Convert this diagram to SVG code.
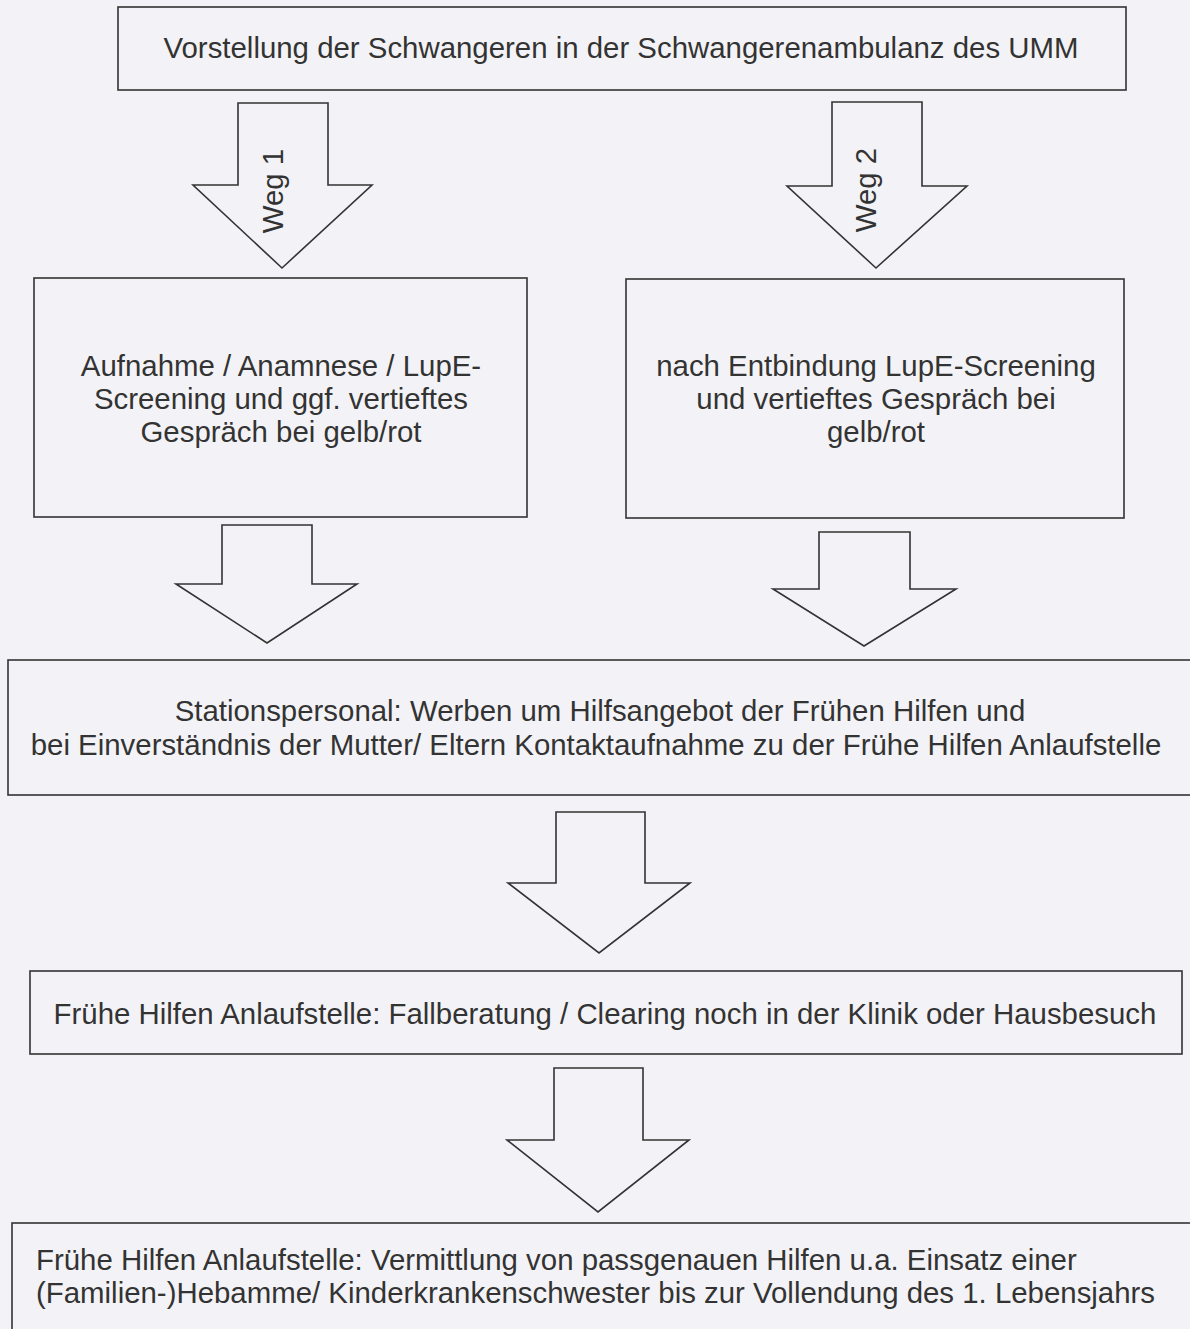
<svg xmlns="http://www.w3.org/2000/svg" width="1190" height="1329" viewBox="0 0 1190 1329">
<style>
.box{fill:#f3f3f7;stroke:#333;stroke-width:1.6}
.arr{fill:#f3f3f7;stroke:#333;stroke-width:1.6;stroke-linejoin:miter}
text{font-family:"Liberation Sans",Arial,sans-serif;font-size:29.4px;fill:#333}
.c{text-anchor:middle}
</style>
<rect x="0" y="0" width="1190" height="1329" fill="#f3f3f7"/>
<g id="connectors">
<polygon id="arrow-weg1" class="arr" points="238,103 328,103 328,185 372,185 282,268 193,185 238,185"/>
<polygon id="arrow-weg2" class="arr" points="832,102 922,102 922,186 967,186 876,268 787,186 832,186"/>
<polygon id="arrow-left" class="arr" points="222,525 312,525 312,584 357,584 267,643 176,584 222,584"/>
<polygon id="arrow-right" class="arr" points="819,532 910,532 910,589 956,589 864,646 773,589 819,589"/>
<polygon id="arrow-mid1" class="arr" points="556,812 645,812 645,883 690,883 599,953 508,883 556,883"/>
<polygon id="arrow-mid2" class="arr" points="554,1068 643,1068 643,1140 689,1140 598,1212 507,1140 554,1140"/>
<text class="c" transform="translate(283,191) rotate(-90)">Weg 1</text>
<text class="c" transform="translate(876,190) rotate(-90)">Weg 2</text>
</g>
<g id="n-vorstellung">
<rect class="box" x="118" y="7" width="1008" height="83"/>
<text class="c" x="621" y="58">Vorstellung der Schwangeren in der Schwangerenambulanz des UMM</text>
</g>
<g id="n-weg1">
<rect class="box" x="34" y="278" width="493" height="239"/>
<text class="c" x="281" y="376">Aufnahme / Anamnese / LupE-</text>
<text class="c" x="281" y="409">Screening und ggf. vertieftes</text>
<text class="c" x="281" y="442">Gespräch bei gelb/rot</text>
</g>
<g id="n-weg2">
<rect class="box" x="626" y="279" width="498" height="239"/>
<text class="c" x="876" y="376">nach Entbindung LupE-Screening</text>
<text class="c" x="876" y="409">und vertieftes Gespräch bei</text>
<text class="c" x="876" y="442">gelb/rot</text>
</g>
<g id="n-stationspersonal">
<rect class="box" x="8" y="660" width="1200" height="135"/>
<text class="c" x="600" y="721">Stationspersonal: Werben um Hilfsangebot der Frühen Hilfen und</text>
<text class="c" x="596" y="755">bei Einverständnis der Mutter/ Eltern Kontaktaufnahme zu der Frühe Hilfen Anlaufstelle</text>
</g>
<g id="n-clearing">
<rect class="box" x="30" y="971" width="1152" height="83"/>
<text class="c" x="605" y="1024">Frühe Hilfen Anlaufstelle: Fallberatung / Clearing noch in der Klinik oder Hausbesuch</text>
</g>
<g id="n-vermittlung">
<rect class="box" x="12" y="1223" width="1200" height="130"/>
<text x="36" y="1270">Frühe Hilfen Anlaufstelle: Vermittlung von passgenauen Hilfen u.a. Einsatz einer</text>
<text x="36" y="1303">(Familien-)Hebamme/ Kinderkrankenschwester bis zur Vollendung des 1. Lebensjahrs</text>
</g>
</svg>
